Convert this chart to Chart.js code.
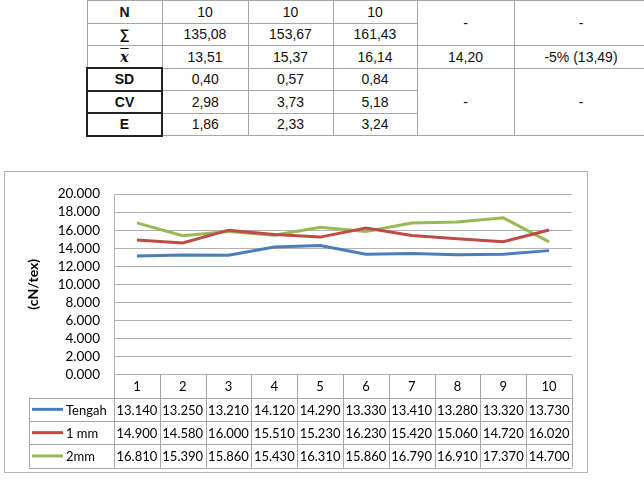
<!DOCTYPE html>
<html><head><meta charset="utf-8">
<script src="https://cdn.jsdelivr.net/npm/chart.js@4"></script>
<style>
html,body{margin:0;padding:0;background:#fff;width:644px;height:480px;overflow:hidden;position:relative}
#stats{position:absolute;left:86px;top:0;width:561px;border-collapse:collapse;font-family:"Liberation Sans",Arial,sans-serif;font-size:14px;color:#111;table-layout:fixed}
#stats td,#stats th{border:1px solid #a6a6a6;padding:0;text-align:center;vertical-align:middle;line-height:16px}
#stats th{font-weight:bold}
#stats th.dark{border:2px solid #222}
#stats tr{height:22.5px}
.xbar{font-family:"DejaVu Serif",serif;font-style:italic;font-weight:bold;text-decoration:overline;font-size:14px}
#box{position:absolute;left:4px;top:171px;width:584px;height:302px;border:1px solid #b5b5b5;box-sizing:border-box}
#c{display:block}
</style></head>
<body>
<table id="stats">
<colgroup><col style="width:75px"><col style="width:86px"><col style="width:85px"><col style="width:84px"><col style="width:97px"><col style="width:134px"></colgroup>
<tbody id="sb"></tbody>
</table>
<div id="box"><canvas id="c" width="582" height="300"></canvas></div>
<script>
// ---- statistics table ----
const statLabels = ['N', '∑', 'x', 'SD', 'CV', 'E'];
const statTengah = ['10', '135,08', '13,51', '0,40', '2,98', '1,86'];
const stat1mm = ['10', '153,67', '15,37', '0,57', '3,73', '2,33'];
const stat2mm = ['10', '161,43', '16,14', '0,84', '5,18', '3,24'];
const statStd = ['-', '14,20', '-'];
const statTol = ['-', '-5% (13,49)', '-'];

// ---- chart data ----
const categories = ['1', '2', '3', '4', '5', '6', '7', '8', '9', '10'];
const seriesNames = ['Tengah', '1 mm', '2mm'];
const tengah = [13.14, 13.25, 13.21, 14.12, 14.29, 13.33, 13.41, 13.28, 13.32, 13.73];
const mm1 = [14.90, 14.58, 16.00, 15.51, 15.23, 16.23, 15.42, 15.06, 14.72, 16.02];
const mm2 = [16.81, 15.39, 15.86, 15.43, 16.31, 15.86, 16.79, 16.91, 17.37, 14.70];
const yMin = 0, yMax = 20, yStep = 2;
const yTitle = '(cN/tex)';

// build stats table
const sb = document.getElementById('sb');
for (let r = 0; r < statLabels.length; r++) {
  const tr = document.createElement('tr');
  const th = document.createElement('th');
  if (r >= 3) th.className = 'dark';
  if (r === 2) { const s = document.createElement('span'); s.className = 'xbar'; s.textContent = statLabels[r]; th.appendChild(s); }
  else th.textContent = statLabels[r];
  tr.appendChild(th);
  [statTengah, stat1mm, stat2mm].forEach(a => { const td = document.createElement('td'); td.textContent = a[r]; tr.appendChild(td); });
  const span = r === 0 ? 2 : r === 2 ? 1 : r === 3 ? 3 : 0;
  const idx = r === 0 ? 0 : r === 2 ? 1 : 2;
  if (span) {
    [statStd, statTol].forEach(a => { const td = document.createElement('td'); td.rowSpan = span; td.textContent = a[idx]; tr.appendChild(td); });
  }
  sb.appendChild(tr);
}

Chart.defaults.font.family = 'Lato';
Chart.defaults.font.size = 13;
Chart.defaults.color = '#000';

const colors = ['#4a7ebb', '#be4b48', '#98b954'];
const seriesData = [tengah, mm1, mm2];

const dataTable = {
  id: 'dataTable',
  afterDraw(chart) {
    const ctx = chart.ctx, xs = chart.scales.x, a = chart.chartArea;
    const n = categories.length, w = (a.right - a.left) / n;
    const rh = 23.3, top = a.bottom, legLeft = 24;
    const rows = seriesNames.length;
    const bottom = top + rh * (rows + 1);
    ctx.save();
    ctx.strokeStyle = '#a6a6a6';
    ctx.lineWidth = 1;
    ctx.beginPath();
    for (let i = 0; i <= n; i++) {
      const xx = Math.round(a.left + i * w) + 0.5;
      ctx.moveTo(xx, top); ctx.lineTo(xx, bottom);
    }
    ctx.moveTo(legLeft + 0.5, top + rh); ctx.lineTo(legLeft + 0.5, bottom);
    for (let r = 1; r <= rows + 1; r++) {
      const yy = Math.round(top + r * rh) + 0.5;
      ctx.moveTo(legLeft, yy); ctx.lineTo(a.right, yy);
    }
    ctx.stroke();
    ctx.fillStyle = '#000';
    ctx.font = '13px Lato';
    ctx.textAlign = 'center';
    ctx.textBaseline = 'middle';
    for (let i = 0; i < n; i++) {
      const cx = xs.getPixelForValue(i);
      ctx.fillText(categories[i], cx, top + rh / 2 + 1);
      for (let s = 0; s < rows; s++) {
        ctx.fillText(seriesData[s][i].toFixed(3), cx, top + rh * (s + 1.5) + 1);
      }
    }
    ctx.textAlign = 'left';
    for (let s = 0; s < rows; s++) {
      const cy = top + rh * (s + 1.5);
      ctx.strokeStyle = colors[s]; ctx.lineWidth = 3;
      ctx.beginPath(); ctx.moveTo(legLeft + 3, cy); ctx.lineTo(legLeft + 34, cy); ctx.stroke();
      ctx.fillText(seriesNames[s], legLeft + 37, cy + 1);
    }
    ctx.restore();
  }
};

new Chart(document.getElementById('c'), {
  type: 'line',
  data: {
    labels: categories,
    datasets: seriesNames.map((name, i) => ({
      label: name, data: seriesData[i], borderColor: colors[i], backgroundColor: colors[i],
      borderWidth: 3, pointRadius: 0, tension: 0, fill: false
    }))
  },
  options: {
    responsive: false, animation: false,
    layout: { padding: { left: 0, top: 15.3, right: 15, bottom: 97.6 } },
    plugins: { legend: { display: false }, tooltip: { enabled: false } },
    scales: {
      x: { display: false, offset: true },
      y: {
        min: yMin, max: yMax,
        ticks: { stepSize: yStep, padding: 14, autoSkip: false, callback: v => v.toFixed(3), font: { size: 13.5 } },
        grid: { color: '#b3b3b3', drawTicks: false },
        border: { display: true, color: '#b3b3b3' },
        title: { display: true, text: yTitle, font: { size: 14, weight: 'bold' }, padding: { top: 20, bottom: 0 } },
        afterFit: s => { s.width = 109; }
      }
    }
  },
  plugins: [dataTable]
});
</script>
</body></html>
